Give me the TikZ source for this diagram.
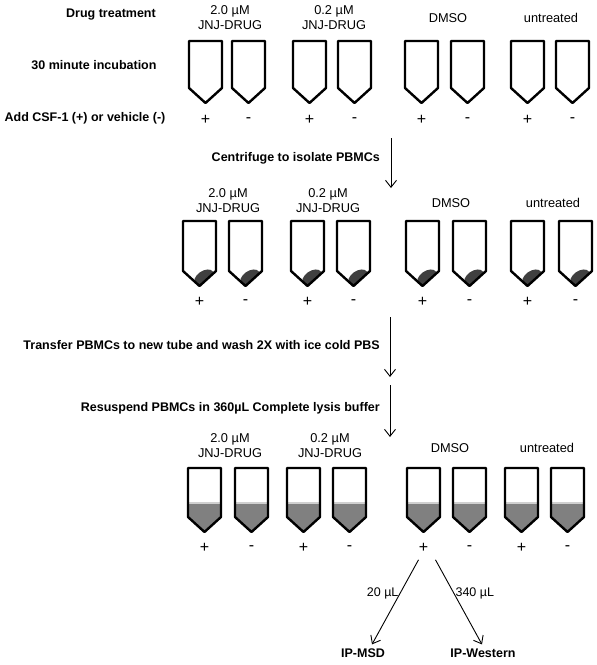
\documentclass[tikz,border=0pt]{standalone}
\usepackage{fontspec}
\setmainfont{Liberation Sans}
\usetikzlibrary{arrows.meta, positioning, calc}
\definecolor{pelletGray}{HTML}{404040}
\definecolor{lysateGray}{HTML}{808080}
\definecolor{surfaceGray}{HTML}{D0D0D0}
\newcommand{\DrawTube}[3]{
    \draw[tubeLine] (#1,#2) -- ++(0,#3) -- ++(16.5,15) -- ++(16.5,-15) -- ++(0,-#3) -- cycle;
}
\newcommand{\DrawPellet}[3]{
    \begin{scope}
        \clip (#1,#2) -- ++(0,#3) -- ++(16.5,15) -- ++(16.5,-15) -- ++(0,-#3) -- cycle;
        \fill[pelletGray, rotate around={35:(#1+21,#2+#3+7)}] (#1+21,#2+#3+7) ellipse [x radius=11, y radius=7];
    \end{scope}
}
\newcommand{\DrawLysate}[3]{
    \begin{scope}
        \clip (#1,#2) -- ++(0,#3) -- ++(16.5,15) -- ++(16.5,-15) -- ++(0,-#3) -- cycle;
        \fill[lysateGray] (#1,#2+35) rectangle (#1+34,#2+#3+16);
        \draw[surfaceGray, line width=1.2pt] (#1,#2+35) -- (#1+34,#2+35);
    \end{scope}
}
\tikzset{
    % Text
    stepText/.style={font=\bfseries\fontsize{12.5}{14}\selectfont, inner sep=1pt},
    groupText/.style={font=\fontsize{12.8}{15}\selectfont, align=center, inner sep=0pt},
    signText/.style={font=\fontsize{16}{18}\selectfont, inner sep=0pt},
    volText/.style={font=\fontsize{12.5}{14}\selectfont, inner sep=1pt},
    % Tubes and arrows
    tubeLine/.style={draw=black, line width=2.4pt, line join=round},
    arrowStep/.style={-{Straight Barb[length=7pt,width=11pt]}, line width=0.9pt, draw=black}
}
\begin{document}
\begin{tikzpicture}[x=1pt, y=-1pt]
    \useasboundingbox (0,0) rectangle (597,665);

    % Step labels
    \node[stepText] (drugLbl) at (111,15) {Drug treatment};
    \node[stepText] (incLbl) at (94,65) {30 minute incubation};
    \node[stepText] (csfLbl) at (85,118) {Add CSF-1 (+) or vehicle (-)};

    % Row 1: treated tubes
    \foreach \x in {189, 232, 293, 338, 405, 451, 511, 556} \DrawTube{\x}{41}{47};
    \node[groupText] (hiA) at (230,18) {2.0 µM\\JNJ-DRUG};
    \node[groupText] (loA) at (334,18) {0.2 µM\\JNJ-DRUG};
    \node[groupText] (dmsoA) at (448,18) {DMSO};
    \node[groupText] (untA) at (551,18) {untreated};
    \foreach \x/\s [count=\i] in {205.5/+, 248.5/-, 309.5/+, 354.5/-, 421.5/+, 467.5/-, 527.5/+, 572.5/-}
        \node[signText] (signA\i) at (\x,120) {\s};

    % Centrifuge
    \node[stepText, anchor=east] (spinLbl) at (381,158) {Centrifuge to isolate PBMCs};
    \coordinate (spinFrom) at (391,138);
    \coordinate (spinTo) at (391,188);
    \draw[arrowStep] (spinFrom) -- (spinTo);

    % Row 2: pellets
    \foreach \x in {183, 229, 291, 337, 406, 453, 511, 559} {
        \DrawPellet{\x}{221}{50}
        \DrawTube{\x}{221}{50}
    }
    \node[groupText] (hiB) at (228,201) {2.0 µM\\JNJ-DRUG};
    \node[groupText] (loB) at (328,201) {0.2 µM\\JNJ-DRUG};
    \node[groupText] (dmsoB) at (451,203) {DMSO};
    \node[groupText] (untB) at (553,203) {untreated};
    \foreach \x/\s [count=\i] in {199.5/+, 245.5/-, 307.5/+, 353.5/-, 422.5/+, 469.5/-, 527.5/+, 575.5/-}
        \node[signText] (signB\i) at (\x,302) {\s};

    % Transfer and wash
    \node[stepText, anchor=east] (washLbl) at (381,345) {Transfer PBMCs to new tube and wash 2X with ice cold PBS};
    \coordinate (washFrom) at (390,317);
    \coordinate (washTo) at (390,377);
    \draw[arrowStep] (washFrom) -- (washTo);

    % Lysis
    \node[stepText, anchor=east] (lysisLbl) at (381,408) {Resuspend PBMCs in 360µL Complete lysis buffer};
    \coordinate (lysisFrom) at (390,385);
    \coordinate (lysisTo) at (390,437);
    \draw[arrowStep] (lysisFrom) -- (lysisTo);

    % Row 3: lysates
    \foreach \x in {188, 235, 287, 333, 407, 453, 505, 551} {
        \DrawLysate{\x}{468}{49}
        \DrawTube{\x}{468}{49}
    }
    \node[groupText] (hiC) at (230,446) {2.0 µM\\JNJ-DRUG};
    \node[groupText] (loC) at (330,446) {0.2 µM\\JNJ-DRUG};
    \node[groupText] (dmsoC) at (450,448) {DMSO};
    \node[groupText] (untC) at (547,448) {untreated};
    \foreach \x/\s [count=\i] in {204.5/+, 251.5/-, 303.5/+, 349.5/-, 423.5/+, 469.5/-, 521.5/+, 567.5/-}
        \node[signText] (signC\i) at (\x,548) {\s};

    % Split
    \node[stepText] (msd) at (363,653) {IP-MSD};
    \node[stepText] (west) at (483,653) {IP-Western};
    \draw[arrowStep] ([xshift=-5pt,yshift=-7pt]signC5.south) -- node[volText, left, pos=0.4] (volMsd) {20 µL} ([xshift=9pt,yshift=3pt]msd.north);
    \draw[arrowStep] ([xshift=12pt,yshift=-7pt]signC5.south) -- node[volText, right, pos=0.4] (volWest) {340 µL} ([xshift=-1pt,yshift=3pt]west.north);
\end{tikzpicture}
\end{document}
